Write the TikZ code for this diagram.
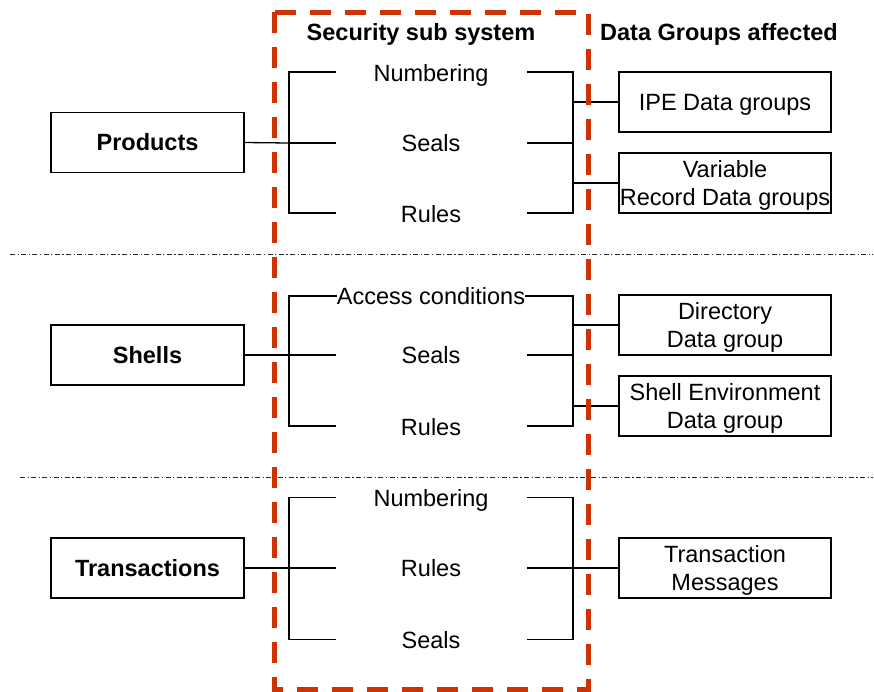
\documentclass[tikz,border=0pt]{standalone}
\usepackage{fontspec}
\setmainfont{Liberation Sans}
\begin{document}
\begin{tikzpicture}[x=1pt,y=-1pt,
  every node/.style={font=\fontsize{23.5}{28}\selectfont, inner sep=0pt, text height=16.8pt, text depth=0pt},
  box/.style={draw, line width=1.3pt, minimum height=60pt, align=center},
  lbox/.style={box, minimum width=193pt},
  rbox/.style={box, minimum width=212pt},
  rbox2/.style={rbox, text height=44.8pt, text depth=0pt},
  lab/.style={},
  hdr/.style={font=\fontsize{23.5}{28}\selectfont\bfseries},
  wire/.style={line width=1.3pt, black},
  sep/.style={line width=1pt, black!85, dash pattern=on 5pt off 2.5pt on 1.2pt off 2.5pt},
  secbox/.style={line width=5pt, draw={rgb,255:red,204;green,51;blue,0}, dash pattern=on 21pt off 14pt}
]
\useasboundingbox (0,0) rectangle (874,691);

% headers
\node[hdr] (hsec) at (421,32) {Security sub system};
\node[hdr] (hdata) at (719,32) {Data Groups affected};

% separators
\coordinate (s1a) at (10,254.3); \coordinate (s1b) at (873,254.3);
\coordinate (s2a) at (20,477.7); \coordinate (s2b) at (873,477.7);
\draw[sep] (s1a) -- (s1b);
\draw[sep] (s2a) -- (s2b);

% ---------- Section 1: Products ----------
\node[lbox] (prod) at (147.5,142.5) {\bfseries Products};
\node[lab] (p1) at (431,73) {Numbering};
\node[lab] (p2) at (431,143) {Seals};
\node[lab] (p3) at (431,214) {Rules};
\node[rbox] (ipe) at (725,102) {IPE Data groups};
\node[rbox2] (vrd) at (725,183) {Variable\\Record Data groups};

\coordinate (pl1) at (289,72); \coordinate (pl2) at (289,143); \coordinate (pl3) at (289,213);
\coordinate (pr1) at (573,72); \coordinate (pr2) at (573,143); \coordinate (pr3) at (573,213);
\draw[wire] (335.5,72) -- (pl1) -- (pl3) -- (335.5,213);
\draw[wire] (pl2) -- (335.5,143);
\draw[wire] (prod.east) -- (pl2);
\draw[wire] (527,72) -- (pr1) -- (pr3) -- (527,213);
\draw[wire] (527,143) -- (pr2);
\draw[wire] (573,102) -- (ipe.west);
\draw[wire] (573,183) -- (vrd.west);

% ---------- Section 2: Shells ----------
\node[lbox] (shell) at (147.5,355) {\bfseries Shells};
\node[lab] (s1) at (431,296) {Access conditions};
\node[lab] (s2) at (431,355.5) {Seals};
\node[lab] (s3) at (431,427) {Rules};
\node[rbox2] (dir) at (725,325) {Directory\\Data group};
\node[rbox2] (env) at (725,406) {Shell Environment\\Data group};

\coordinate (sl1) at (289,296); \coordinate (sl2) at (289,355); \coordinate (sl3) at (289,426);
\coordinate (sr1) at (573,296); \coordinate (sr2) at (573,355); \coordinate (sr3) at (573,426);
\draw[wire] (s1.west) -- (sl1) -- (sl3) -- (335.5,426);
\draw[wire] (sl2) -- (335.5,355);
\draw[wire] (shell.east) -- (sl2);
\draw[wire] (s1.east) -- (sr1) -- (sr3) -- (527,426);
\draw[wire] (527,355) -- (sr2);
\draw[wire] (573,325) -- (dir.west);
\draw[wire] (573,406) -- (env.west);

% ---------- Section 3: Transactions ----------
\node[lbox] (trans) at (147.5,568) {\bfseries Transactions};
\node[lab] (t1) at (431,498) {Numbering};
\node[lab] (t2) at (431,568.5) {Rules};
\node[lab] (t3) at (431,640) {Seals};
\node[rbox2] (msg) at (725,568) {Transaction\\Messages};

\coordinate (tl1) at (289,497.7); \coordinate (tl2) at (289,568); \coordinate (tl3) at (289,639.3);
\coordinate (tr1) at (573,497.7); \coordinate (tr2) at (573,568); \coordinate (tr3) at (573,639.3);
\draw[wire] (335.5,497.7) -- (tl1) -- (tl3) -- (335.5,639.3);
\draw[wire] (tl2) -- (335.5,568);
\draw[wire] (trans.east) -- (tl2);
\draw[wire] (527,497.7) -- (tr1) -- (tr3) -- (527,639.3);
\draw[wire] (527,568) -- (tr2);
\draw[wire] (tr2) -- (msg.west);

% security subsystem dashed frame
\coordinate (fa) at (274,12); \coordinate (fb) at (588,689);
\draw[secbox] (fa) rectangle (fb);
\end{tikzpicture}
\end{document}
